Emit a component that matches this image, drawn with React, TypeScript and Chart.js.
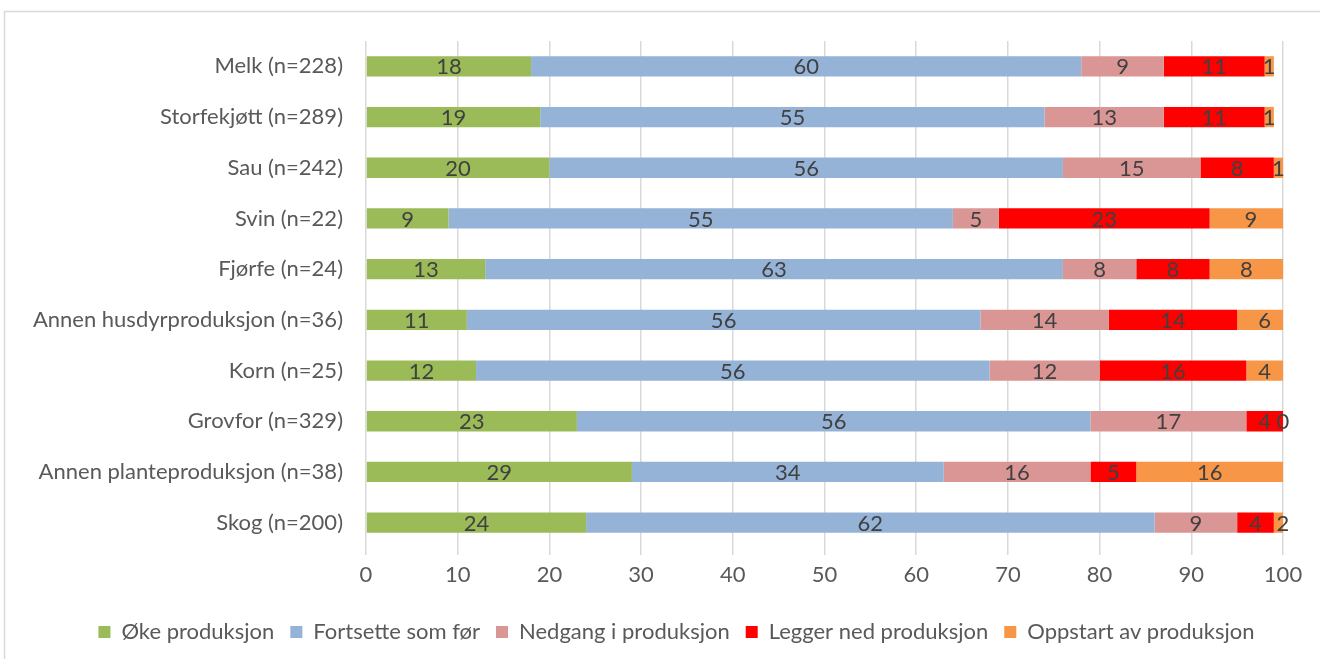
import React, { useEffect, useRef } from "react";
import { Chart, registerables } from "chart.js";

Chart.register(...registerables);

const categories = [
  "Melk (n=228)",
  "Storfekjøtt (n=289)",
  "Sau (n=242)",
  "Svin (n=22)",
  "Fjørfe (n=24)",
  "Annen husdyrproduksjon (n=36)",
  "Korn (n=25)",
  "Grovfor (n=329)",
  "Annen planteproduksjon (n=38)",
  "Skog (n=200)",
];

const seriesNames = [
  "Øke produksjon",
  "Fortsette som før",
  "Nedgang i produksjon",
  "Legger ned produksjon",
  "Oppstart av produksjon",
];

const oke = [18, 19, 20, 9, 13, 11, 12, 23, 29, 24];
const fortsette = [60, 55, 56, 55, 63, 56, 56, 56, 34, 62];
const nedgang = [9, 13, 15, 5, 8, 14, 12, 17, 16, 9];
const leggerNed = [11, 11, 8, 23, 8, 14, 16, 4, 5, 4];
const oppstart = [1, 1, 1, 9, 8, 6, 4, 0, 16, 2];

const xTicks = [0, 10, 20, 30, 40, 50, 60, 70, 80, 90, 100];

const colors = ["#9BBB59", "#95B3D7", "#DA9694", "#FF0000", "#F79646"];
const FONT = "Lato";
const FS = 22;
const TEXT = "#595959";

const labelPlugin = {
  id: "segLabels",
  afterDatasetsDraw(chart: any) {
    const ctx = chart.ctx;
    ctx.save();
    ctx.font = `${FS}px ${FONT}`;
    ctx.fillStyle = "#404040";
    ctx.textAlign = "center";
    ctx.textBaseline = "middle";
    chart.data.datasets.forEach((ds: any, di: number) => {
      const meta = chart.getDatasetMeta(di);
      meta.data.forEach((el: any, i: number) => {
        const v = ds.data[i];
        const cx = (el.x + el.base) / 2;
        ctx.fillText(String(v), cx, el.y + 1);
      });
    });
    ctx.restore();
  },
};

const borderPlugin = {
  id: "outerBorder",
  beforeDraw(chart: any) {
    const ctx = chart.ctx;
    ctx.save();
    ctx.fillStyle = "#ffffff";
    ctx.fillRect(0, 0, chart.width, chart.height);
    ctx.strokeStyle = "#d9d9d9";
    ctx.lineWidth = 1.5;
    ctx.strokeRect(4.5, 11.5, chart.width + 20, chart.height + 20);
    ctx.restore();
  },
};

// Centre the legend under the whole (wider) chart frame of the original.
const legendShift = {
  id: "legendShift",
  afterLayout(chart: any) {
    const l = chart.legend;
    if (l) {
      l.left = 70;
      l.right = chart.chartArea.right;
      l.width = l.right - l.left;
    }
  },
};

export default function App() {
  const ref = useRef<HTMLCanvasElement | null>(null);

  useEffect(() => {
    document.body.style.margin = "0";
    const data = [oke, fortsette, nedgang, leggerNed, oppstart];
    const chart = new Chart(ref.current as HTMLCanvasElement, {
      type: "bar",
      data: {
        labels: categories,
        datasets: seriesNames.map((name, k) => ({
          label: name,
          data: data[k],
          backgroundColor: colors[k],
          borderWidth: 0,
          barPercentage: 0.4,
          categoryPercentage: 1,
        })),
      },
      options: {
        indexAxis: "y",
        responsive: false,
        animation: false,
        layout: { padding: { top: 41, right: 37, bottom: 6, left: 0 } },
        scales: {
          x: {
            stacked: true,
            min: 0,
            max: 100,
            afterBuildTicks: (scale: any) => {
              scale.ticks = xTicks.map((v) => ({ value: v }));
            },
            afterFit: (scale: any) => {
              scale.height = 57;
            },
            grid: {
              color: "#d9d9d9",
              lineWidth: 1.5,
              drawTicks: true,
              tickLength: 7,
            },
            border: { display: false },
            ticks: {
              color: TEXT,
              font: { family: FONT, size: FS },
              padding: 7,
            },
          },
          y: {
            stacked: true,
            afterFit: (scale: any) => {
              scale.width = 366;
            },
            grid: { display: false, drawTicks: false },
            border: { display: false },
            ticks: {
              color: TEXT,
              font: { family: FONT, size: FS },
              padding: 23,
            },
          },
        },
        plugins: {
          legend: {
            position: "bottom",
            labels: {
              color: TEXT,
              font: { family: FONT, size: FS },
              boxWidth: 12,
              boxHeight: 12,
              padding: 16,
            },
          },
          tooltip: { enabled: false },
        },
      },
      plugins: [labelPlugin, borderPlugin, legendShift],
    } as any);
    return () => chart.destroy();
  }, []);

  return (
    <canvas
      ref={ref}
      width={1320}
      height={659}
      style={{ display: "block", width: 1320, height: 659 }}
    />
  );
}
